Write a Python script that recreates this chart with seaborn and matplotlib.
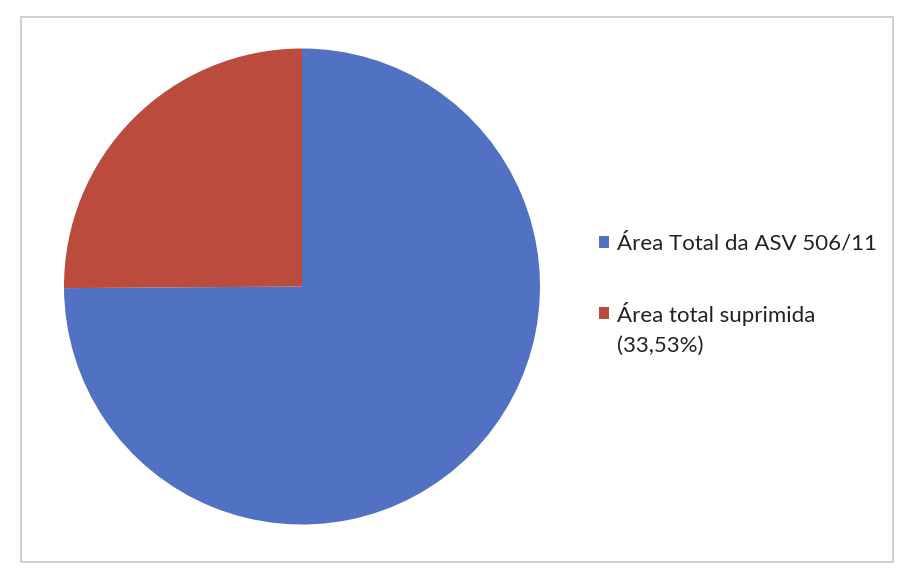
import matplotlib
matplotlib.use('Agg')
import matplotlib.pyplot as plt
import seaborn as sns
from matplotlib.patches import Rectangle

# Data
labels = ['Área Total da ASV 506/11', 'Área total suprimida\n(33,53%)']
values = [100, 33.53]
colors = ['#5171C2', '#BA4B3D']

sns.set_theme(style='white')
plt.rcParams['font.family'] = ['Lato', 'DejaVu Sans']

fig = plt.figure(figsize=(9.05, 5.71), dpi=100)
fig.patch.set_facecolor('white')

# chart frame
fig.patches.append(Rectangle((21 / 905, 1 - 562 / 571), 872 / 905, 545 / 571,
                             transform=fig.transFigure, fill=False,
                             edgecolor='#C8C8C8', linewidth=1.2))

ax = fig.add_axes([64 / 905, 1 - 525 / 571, 476 / 905, 477 / 571])
wedges, _ = ax.pie(values, colors=colors, startangle=90, counterclock=False,
                   wedgeprops={'linewidth': 0})
ax.set_xlim(-1, 1)
ax.set_ylim(-1, 1)
ax.set_aspect('equal')

leg = fig.legend(wedges, labels, loc='upper left',
                 bbox_to_anchor=(599 / 905, 1 - 233 / 571),
                 frameon=False, fontsize=16, handlelength=0.45,
                 handleheight=0.45, handletextpad=0.35, labelspacing=2.2,
                 borderaxespad=0, borderpad=0)
for t in leg.get_texts():
    t.set_color('#222222')
    t.set_linespacing(1.6)

# put the second marker next to the first line of its label
h = leg.legend_handles[1]
h.set_y(h.get_y() + 11.5)

fig.savefig('out.png', dpi=100)
